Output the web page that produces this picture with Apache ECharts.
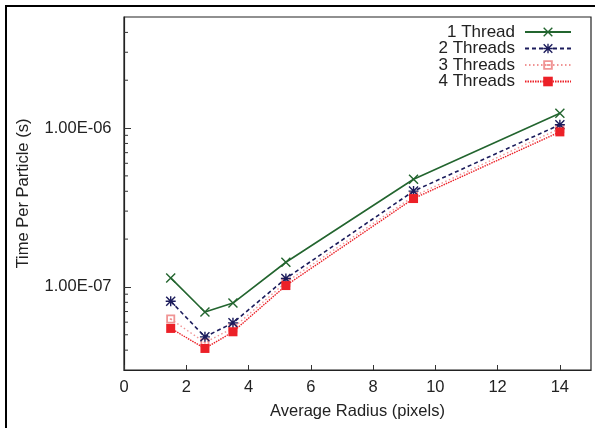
<!DOCTYPE html>
<html>
<head>
<meta charset="utf-8">
<script src="https://cdn.jsdelivr.net/npm/echarts@6/dist/echarts.min.js"></script>
<style>
  html, body { margin: 0; padding: 0; background: #fff; }
  #chart { position: absolute; left: 0; top: 0; width: 595px; height: 428px; }
  #frame { position: absolute; left: 5px; top: 5px; width: 620px; height: 460px;
           border-top: 2px solid #000; border-left: 2px solid #000; pointer-events: none; }
</style>
</head>
<body>
<div id="chart"></div>
<div id="frame"></div>
<script>
// ---- data ----
const radius = [1.5, 2.6, 3.5, 5.2, 9.3, 14];
const seriesNames = ['1 Thread', '2 Threads', '3 Threads', '4 Threads'];
const thread1 = [1.14e-7, 6.95e-8, 7.92e-8, 1.43e-7, 4.76e-7, 1.24e-6];
const thread2 = [8.13e-8, 4.85e-8, 5.94e-8, 1.13e-7, 4.01e-7, 1.05e-6];
const thread3 = [6.28e-8, 4.46e-8, 5.51e-8, 1.07e-7, 3.72e-7, 9.93e-7];
const thread4 = [5.48e-8, 4.10e-8, 5.22e-8, 1.02e-7, 3.60e-7, 9.46e-7];
const xTickValues = [0, 2, 4, 6, 8, 10, 12, 14];
const yMajorTicks = [1e-7, 1e-6];
const yMinorTicks = [4e-8, 5e-8, 6e-8, 7e-8, 8e-8, 9e-8,
                     2e-7, 3e-7, 4e-7, 5e-7, 6e-7, 7e-7, 8e-7, 9e-7,
                     2e-6, 3e-6, 4e-6];

// ---- symbols ----
const symCross = 'path://M1,0 L10,9 L9,10 L0,1 Z M10,1 L1,10 L0,9 L9,0 Z';
const symStar = 'path://M1,0 L10,9 L9,10 L0,1 Z M10,1 L1,10 L0,9 L9,0 Z M4.3,0 L5.7,0 L5.7,10 L4.3,10 Z M0,4.3 L10,4.3 L10,5.7 L0,5.7 Z';
const symBoxDot = 'path://M0,0 L10,0 L10,10 L0,10 Z M2,2 L2,8 L8,8 L8,2 Z M4,4 L6,4 L6,6 L4,6 Z';

const FONT = 'Liberation Sans';
const FS = 16.5;
const data = arr => radius.map((r, i) => [r, arr[i]]);

function fmtE(v) {
  const s = v.toExponential(2).split('e');
  const e = parseInt(s[1], 10);
  return s[0] + 'E' + (e < 0 ? '-' : '+') + String(Math.abs(e)).padStart(2, '0');
}

const chart = echarts.init(document.getElementById('chart'), null, { renderer: 'canvas' });
chart.setOption({
  animation: false,
  backgroundColor: '#fff',
  textStyle: { fontFamily: FONT },
  grid: { left: 124, right: 4, top: 17, bottom: 58, show: true, borderColor: '#222', borderWidth: 1.2 },
  legend: {
    data: seriesNames,
    orient: 'vertical',
    right: 18,
    top: 18.5,
    align: 'right',
    itemWidth: 46,
    itemHeight: 12,
    itemGap: -0.5,
    textStyle: { fontFamily: FONT, fontSize: 17, color: '#222', width: 88, align: 'right', lineHeight: 16, padding: [0, 5, 0, 0] }
  },
  xAxis: {
    type: 'value', min: 0, max: 15, interval: 2,
    name: 'Average Radius (pixels)', nameLocation: 'middle', nameGap: 33,
    nameTextStyle: { fontFamily: FONT, fontSize: FS, color: '#222' },
    axisLine: { show: true, lineStyle: { color: '#222', width: 1.2 } },
    axisTick: { show: true, inside: true, length: 5, lineStyle: { color: '#333' } },
    axisLabel: { fontFamily: FONT, fontSize: FS, color: '#222', margin: 9, showMaxLabel: false,
                 formatter: v => xTickValues.includes(v) ? String(v) : '' },
    splitLine: { show: false }
  },
  yAxis: {
    type: 'log', logBase: 10, min: 3e-8, max: 5e-6,
    name: 'Time Per Particle (s)', nameLocation: 'middle', nameGap: 92,
    nameTextStyle: { fontFamily: FONT, fontSize: FS, color: '#222' },
    axisLine: { show: true, lineStyle: { color: '#222', width: 1.2 } },
    axisTick: { show: true, inside: true, length: 7, lineStyle: { color: '#333' } },
    minorTick: { show: false },
    axisLabel: { fontFamily: FONT, fontSize: FS, color: '#222', margin: 12.5,
                 showMinLabel: false, showMaxLabel: false,
                 formatter: v => yMajorTicks.some(t => Math.abs(Math.log10(v) - Math.log10(t)) < 1e-6) ? fmtE(v) : '' },
    splitLine: { show: false }
  },
  series: [
    {
      name: seriesNames[0], type: 'line', data: data(thread1),
      symbol: symCross, symbolSize: 10, showSymbol: true,
      lineStyle: { color: '#23652f', width: 1.6, type: 'solid' },
      itemStyle: { color: '#23652f' }, z: 4
    },
    {
      name: seriesNames[1], type: 'line', data: data(thread2),
      symbol: symStar, symbolSize: 10,
      lineStyle: { color: '#1c1c5c', width: 1.6, type: [4, 3] },
      itemStyle: { color: '#1c1c5c' }, z: 3
    },
    {
      name: seriesNames[2], type: 'line', data: data(thread3),
      symbol: symBoxDot, symbolSize: 9,
      lineStyle: { color: '#f09494', width: 1.4, type: [1.5, 2.5] },
      itemStyle: { color: '#f09494' }, z: 2
    },
    {
      name: seriesNames[3], type: 'line', data: data(thread4),
      symbol: 'rect', symbolSize: 9,
      lineStyle: { color: '#ec2027', width: 1.4, type: [1.5, 1] },
      itemStyle: { color: '#ec2027' }, z: 5
    },
    {
      name: 'minorTicks', type: 'custom', silent: true,
      data: yMinorTicks.map(v => [0, v]),
      encode: { x: 0, y: 1 },
      renderItem: (params, api) => {
        const p = api.coord([api.value(0), api.value(1)]);
        return { type: 'line', shape: { x1: p[0], y1: p[1], x2: p[0] + 4, y2: p[1] },
                 style: { stroke: '#333', lineWidth: 1 } };
      },
      z: 6
    }
  ]
});
</script>
</body>
</html>
